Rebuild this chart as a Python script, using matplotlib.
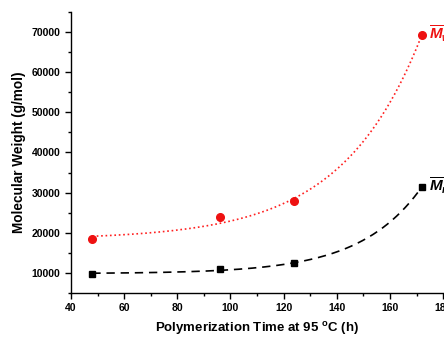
import numpy as np
import matplotlib
matplotlib.use("Agg")
import matplotlib.pyplot as plt
from matplotlib.ticker import MultipleLocator

# Data
time_h = [48, 96, 124, 172]
mw = [18300, 23800, 27800, 69400]
mn = [9600, 11000, 12300, 31400]

plt.rcParams['font.family'] = 'Liberation Sans'
plt.rcParams['font.weight'] = 'bold'
plt.rcParams['mathtext.fontset'] = 'custom'
plt.rcParams['mathtext.it'] = 'Liberation Sans:bold:italic'
plt.rcParams['mathtext.rm'] = 'Liberation Sans:bold'
plt.rcParams['mathtext.bf'] = 'Liberation Sans:bold'


def exp_fit(x, y):
    x = np.asarray(x, float)
    y = np.asarray(y, float)
    best = None
    for t in np.linspace(5, 200, 2000):
        X = np.column_stack([np.ones_like(x), np.exp((x - x[0]) / t)])
        coef, res, *_ = np.linalg.lstsq(X, y, rcond=None)
        r = np.sum((X @ coef - y) ** 2)
        if best is None or r < best[0]:
            best = (r, t, coef)
    _, t, coef = best
    xs = np.linspace(x[0], x[-1], 300)
    return xs, coef[0] + coef[1] * np.exp((xs - x[0]) / t)


fig = plt.figure(figsize=(4.44, 3.37), dpi=100)
ax = fig.add_axes([0.16, 0.1315, 0.838, 0.832])

xs, ys = exp_fit(time_h, mw)
ax.plot(xs, ys, color='#ff2020', linestyle=':', linewidth=1.2)
xs, ys = exp_fit(time_h, mn)
ax.plot(xs, ys, color='black', linestyle=(0, (5, 3.5)), linewidth=1.2)

ax.plot(time_h, mw, 'o', color='#ee1111', markersize=5.5)
ax.plot(time_h, mn, 's', color='black', markersize=4.5)

ax.text(174.6, mw[-1] + 300, r'$\overline{M}_w$', color='#ee1111', fontsize=11,
        va='center', ha='left', clip_on=False)
ax.text(174.6, mn[-1] + 300, r'$\overline{M}_n$', color='black', fontsize=11,
        va='center', ha='left', clip_on=False)

ax.set_xlim(40, 180)
ax.set_ylim(5000, 75000)
ax.xaxis.set_major_locator(MultipleLocator(20))
ax.xaxis.set_minor_locator(MultipleLocator(10))
ax.yaxis.set_minor_locator(MultipleLocator(5000))
ax.set_yticks([10000, 20000, 30000, 40000, 50000, 60000, 70000])

for s in ['top', 'right']:
    ax.spines[s].set_visible(False)
for s in ['left', 'bottom']:
    ax.spines[s].set_linewidth(1.0)

ax.tick_params(axis='both', which='major', direction='out', length=4, width=1,
               labelsize=7.5)
ax.tick_params(axis='both', which='minor', direction='out', length=2.5, width=1)
for lab in ax.get_xticklabels() + ax.get_yticklabels():
    lab.set_fontweight('bold')

ax.set_xlabel(r'Polymerization Time at 95 $^{\rm o}$C (h)', fontsize=9.5,
              fontweight='bold', labelpad=5)
ax.set_ylabel('Molecular Weight (g/mol)', fontsize=9.8, fontweight='bold',
              labelpad=4)

fig.savefig('out.png', dpi=100)
